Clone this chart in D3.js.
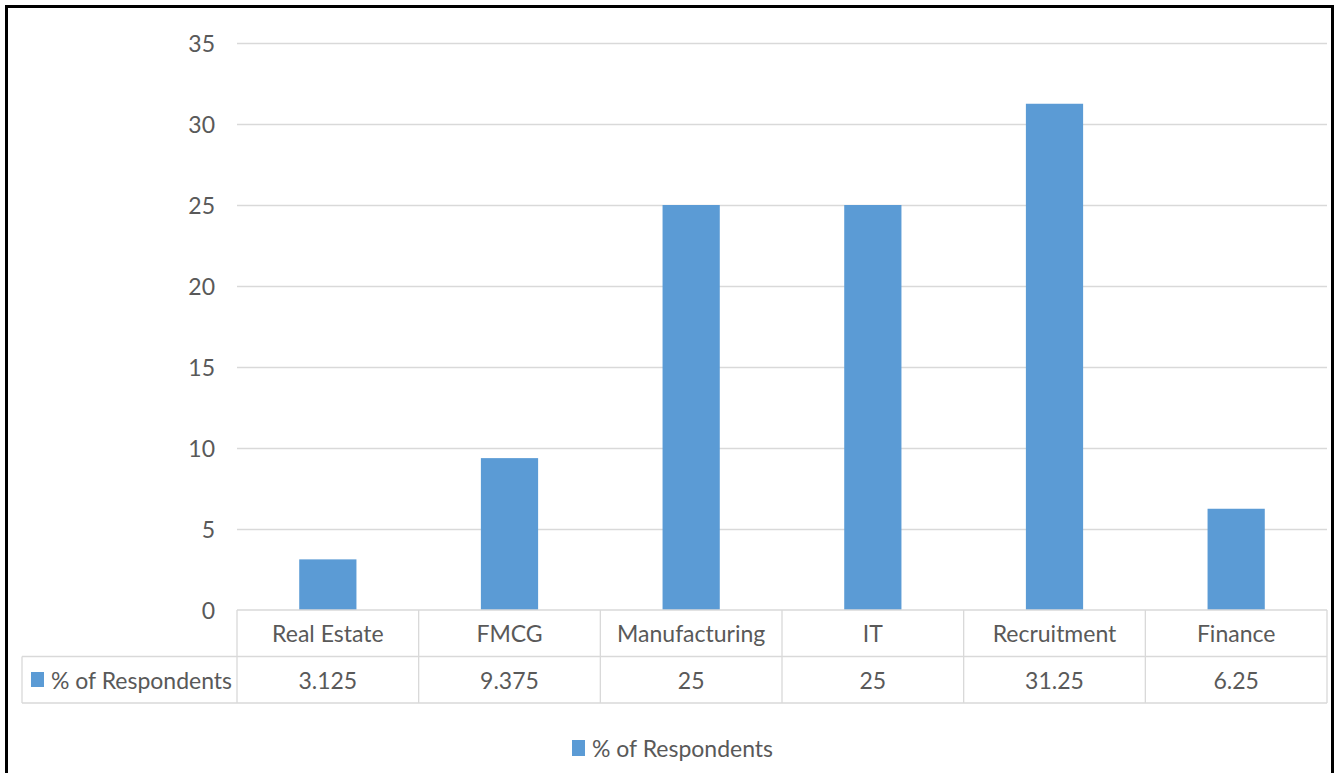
<!DOCTYPE html>
<html>
<head>
<meta charset="utf-8">
<script src="https://cdn.jsdelivr.net/npm/d3@7/dist/d3.min.js"></script>
<style>
  html, body { margin: 0; padding: 0; background: #fff; }
  svg { display: block; }
  text { font-family: Lato, "Open Sans", sans-serif; fill: #595959; }
</style>
</head>
<body>
<svg id="chart" width="1335" height="773"></svg>
<script>
// Share of respondents by industry sector
const categories = ["Real Estate", "FMCG", "Manufacturing", "IT", "Recruitment", "Finance"];
const respondents = [3.125, 9.375, 25, 25, 31.25, 6.25];
const seriesName = "% of Respondents";
const yTicks = [0, 5, 10, 15, 20, 25, 30, 35];

const W = 1335, H = 773;
const plot = { left: 237, right: 1327, top: 43, bottom: 610 };
const tableLeft = 22, rowH = 46.5;
const barColor = "#5b9bd5", gridColor = "#d9d9d9";
const fontSize = 23;

const svg = d3.select("#chart");

// Outer frame
svg.append("rect")
  .attr("x", 6.5).attr("y", 6.5)
  .attr("width", 1326).attr("height", H + 20)
  .attr("fill", "none").attr("stroke", "#000").attr("stroke-width", 3);

const x = d3.scaleBand().domain(categories).range([plot.left, plot.right]).paddingInner(0).paddingOuter(0);
const y = d3.scaleLinear().domain([0, 35]).range([plot.bottom, plot.top]);

// Horizontal gridlines
svg.append("g").selectAll("line").data(yTicks.filter(t => t > 0)).join("line")
  .attr("x1", plot.left).attr("x2", plot.right)
  .attr("y1", d => Math.round(y(d)) + 0.5).attr("y2", d => Math.round(y(d)) + 0.5)
  .attr("stroke", gridColor).attr("stroke-width", 1.3);

// Y tick labels
svg.append("g").selectAll("text").data(yTicks).join("text")
  .attr("x", 215).attr("y", d => y(d))
  .attr("text-anchor", "end").attr("dominant-baseline", "central")
  .attr("font-size", fontSize)
  .text(d => d);

// Bars
const barW = x.bandwidth() * 0.315;
svg.append("g").selectAll("rect").data(respondents).join("rect")
  .attr("x", (d, i) => x(categories[i]) + (x.bandwidth() - barW) / 2)
  .attr("y", d => y(d))
  .attr("width", barW)
  .attr("height", d => y(0) - y(d))
  .attr("fill", barColor);

// Data table
const row1 = plot.bottom, row2 = plot.bottom + rowH, row3 = plot.bottom + 2 * rowH;
const tg = svg.append("g").attr("stroke", gridColor).attr("stroke-width", 1.3);
tg.append("line").attr("x1", plot.left).attr("x2", plot.right).attr("y1", row1).attr("y2", row1);
tg.append("line").attr("x1", tableLeft).attr("x2", plot.right).attr("y1", row2).attr("y2", row2);
tg.append("line").attr("x1", tableLeft).attr("x2", plot.right).attr("y1", row3).attr("y2", row3);
tg.append("line").attr("x1", tableLeft).attr("x2", tableLeft).attr("y1", row2).attr("y2", row3);
const colEdges = categories.map(c => x(c)).concat([plot.right]);
tg.selectAll("line.v").data(colEdges).join("line").attr("class", "v")
  .attr("x1", d => d).attr("x2", d => d).attr("y1", row1).attr("y2", row3);

// Category header row
svg.append("g").selectAll("text").data(categories).join("text")
  .attr("x", d => x(d) + x.bandwidth() / 2).attr("y", (row1 + row2) / 2)
  .attr("text-anchor", "middle").attr("dominant-baseline", "central")
  .attr("font-size", fontSize)
  .text(d => d);

// Value row
svg.append("g").selectAll("text").data(respondents).join("text")
  .attr("x", (d, i) => x(categories[i]) + x.bandwidth() / 2).attr("y", (row2 + row3) / 2)
  .attr("text-anchor", "middle").attr("dominant-baseline", "central")
  .attr("font-size", fontSize)
  .text(d => d);

// Series key in the table
svg.append("rect").attr("x", 31).attr("y", 672).attr("width", 13).attr("height", 15).attr("fill", barColor);
svg.append("text").attr("x", 51).attr("y", (row2 + row3) / 2)
  .attr("dominant-baseline", "central").attr("font-size", fontSize)
  .text(seriesName);

// Legend
svg.append("rect").attr("x", 572).attr("y", 740).attr("width", 13).attr("height", 16).attr("fill", barColor);
svg.append("text").attr("x", 592).attr("y", 748)
  .attr("dominant-baseline", "central").attr("font-size", fontSize)
  .text(seriesName);
</script>
</body>
</html>
